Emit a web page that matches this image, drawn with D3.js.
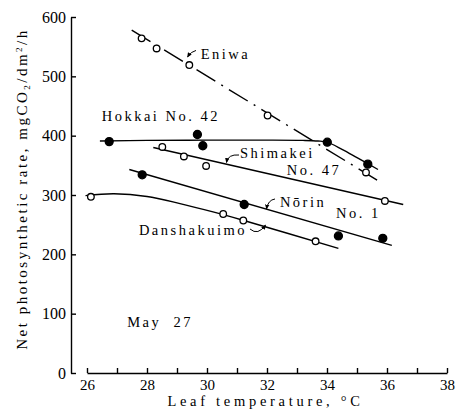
<!DOCTYPE html>
<html>
<head>
<meta charset="utf-8">
<script src="https://cdn.jsdelivr.net/npm/d3@7"></script>
<style>
  body { margin: 0; background: #fff; }
  svg { display: block; }
  svg text { font-family: "Liberation Serif", "DejaVu Serif", serif; }
</style>
</head>
<body>
<svg id="chart" width="466" height="418"></svg>
<script>
/* globals d3 */

// [leaf temperature °C, net photosynthetic rate mgCO2/dm2/h]
const eniwaPts = [[27.82, 564], [28.32, 547], [29.41, 519], [32.02, 434], [35.30, 338]];
const eniwaFit = [[27.49, 578], [35.67, 325]];

const hokkaiPts = [[26.74, 390], [29.68, 402], [29.86, 383], [34.01, 389], [35.36, 352]];
const hokkaiFit = [[26.43, 391], [28, 392], [30, 392.5], [32, 392.5], [33.2, 392], [33.7, 391],
  [34.0, 389], [34.5, 377], [35.0, 363], [35.7, 343]];

const shimakeiPts = [[28.51, 381], [29.23, 365], [29.97, 349], [35.93, 290]];
const shimakeiFit = [[28.21, 380], [36.54, 284]];

const norinPts = [[27.84, 334], [31.24, 284], [34.38, 231], [35.86, 227]];
const norinFit = [[27.41, 343], [36.16, 215]];

const danshaPts = [[26.13, 297], [30.54, 268], [31.21, 257], [33.62, 222]];
const danshaFit = [[25.95, 299], [26.9, 302], [28, 297.5], [29.1, 285.5], [30.2, 271.5],
  [31.2, 257.5], [34.38, 210]];

const xTicks = d3.range(26, 39);
const yTicks = [0, 100, 200, 300, 400, 500, 600];

const x = d3.scaleLinear().domain([26, 38]).range([87, 447]);
const y = d3.scaleLinear().domain([0, 600]).range([373, 17]);

const svg = d3.select("#chart");

// axes
const yAxis = svg.append("g")
  .attr("transform", "translate(71,0)")
  .call(d3.axisLeft(y).tickValues(yTicks).tickSize(-5).tickPadding(5).tickSizeOuter(0));
yAxis.attr("font-family", null).attr("font-size", 16);
yAxis.selectAll("path, line").attr("stroke-width", 1.4);

const xAxis = svg.append("g")
  .attr("transform", "translate(0,373)")
  .call(d3.axisBottom(x).tickValues(xTicks).tickSize(-5).tickSizeOuter(0)
    .tickFormat((d) => (d % 2 === 0 ? d : "")));
xAxis.attr("font-family", null).attr("font-size", 15);
xAxis.selectAll("path, line").attr("stroke-width", 1.4);
xAxis.selectAll("text").attr("y", 17).attr("dy", null);

// axis titles
svg.append("text")
  .attr("x", 265.5).attr("y", 406)
  .attr("text-anchor", "middle")
  .attr("font-size", 14.5).attr("letter-spacing", 3.7)
  .text("Leaf temperature, °C");

const yTitle = svg.append("text")
  .attr("transform", "translate(26.5,189) rotate(-90)")
  .attr("text-anchor", "middle")
  .attr("font-size", 15).attr("letter-spacing", 2.5);
yTitle.append("tspan").text("Net photosynthetic rate, mgCO");
yTitle.append("tspan").attr("font-size", 9).attr("dy", 3).text("2");
yTitle.append("tspan").attr("dy", -3).text("/dm");
yTitle.append("tspan").attr("font-size", 9).attr("dy", -5).text("2");
yTitle.append("tspan").attr("dy", 5).text("/h");

// fitted lines
const straight = d3.line().x((d) => x(d[0])).y((d) => y(d[1]));
const smooth = d3.line().x((d) => x(d[0])).y((d) => y(d[1])).curve(d3.curveCatmullRom);

const fits = [
  { data: eniwaFit, gen: straight, dash: "22,7,2,7" },
  { data: hokkaiFit, gen: smooth, dash: null },
  { data: shimakeiFit, gen: straight, dash: null },
  { data: norinFit, gen: straight, dash: null },
  { data: danshaFit, gen: smooth, dash: null },
];
svg.append("g").selectAll("path")
  .data(fits)
  .join("path")
  .attr("d", (d) => d.gen(d.data))
  .attr("fill", "none")
  .attr("stroke", "#000")
  .attr("stroke-width", 1.4)
  .attr("stroke-dasharray", (d) => d.dash);

// observed points
const series = [
  { data: eniwaPts, filled: false },
  { data: hokkaiPts, filled: true },
  { data: shimakeiPts, filled: false },
  { data: norinPts, filled: true },
  { data: danshaPts, filled: false },
];
series.forEach((s) => {
  svg.append("g").selectAll("circle")
    .data(s.data)
    .join("circle")
    .attr("cx", (d) => x(d[0]))
    .attr("cy", (d) => y(d[1]))
    .attr("r", s.filled ? 4 : 3.3)
    .attr("fill", s.filled ? "#000" : "#fff")
    .attr("stroke", "#000")
    .attr("stroke-width", 1.3);
});

// labels (positioned in data units)
const labels = [
  { text: "Eniwa", at: [29.79, 530] },
  { text: "Hokkai No. 42", at: [26.49, 424] },
  { text: "Shimakei", at: [31.1, 362] },
  { text: "No. 47", at: [32.66, 334] },
  { text: "Nōrin", at: [32.43, 280] },
  { text: "No. 1", at: [34.3, 261] },
  { text: "Danshakuimo", at: [27.73, 232.5] },
  { text: "May  27", at: [27.34, 77] },
];
svg.append("g").selectAll("text")
  .data(labels)
  .join("text")
  .attr("x", (d) => x(d.at[0]))
  .attr("y", (d) => y(d.at[1]))
  .attr("font-size", 14.5)
  .attr("letter-spacing", 2.5)
  .style("white-space", "pre")
  .text((d) => d.text);

// little hooked arrows from labels to lines
svg.append("defs").append("marker")
  .attr("id", "arr")
  .attr("viewBox", "0 0 8 8")
  .attr("refX", 7).attr("refY", 4)
  .attr("markerWidth", 5).attr("markerHeight", 5)
  .attr("markerUnits", "userSpaceOnUse")
  .attr("orient", "auto")
  .append("path")
  .attr("d", "M0,0.5L8,4L0,7.5Z")
  .attr("fill", "#000");

const arrows = [
  { from: [29.633, 543.6], ctrl: [29.467, 541.9], to: [29.35, 532.6] },
  { from: [31.067, 367.4], ctrl: [30.7, 369.1], to: [30.65, 354.8] },
  { from: [32.267, 293.3], ctrl: [32.033, 291.6], to: [31.983, 276.4] },
  { from: [31.433, 242.7], ctrl: [31.7, 230.9], to: [31.95, 249.4] },
];
svg.append("g").selectAll("path")
  .data(arrows)
  .join("path")
  .attr("d", (d) => `M${x(d.from[0])},${y(d.from[1])}Q${x(d.ctrl[0])},${y(d.ctrl[1])} ${x(d.to[0])},${y(d.to[1])}`)
  .attr("fill", "none")
  .attr("stroke", "#000")
  .attr("stroke-width", 1)
  .attr("marker-end", "url(#arr)");
</script>
</body>
</html>
